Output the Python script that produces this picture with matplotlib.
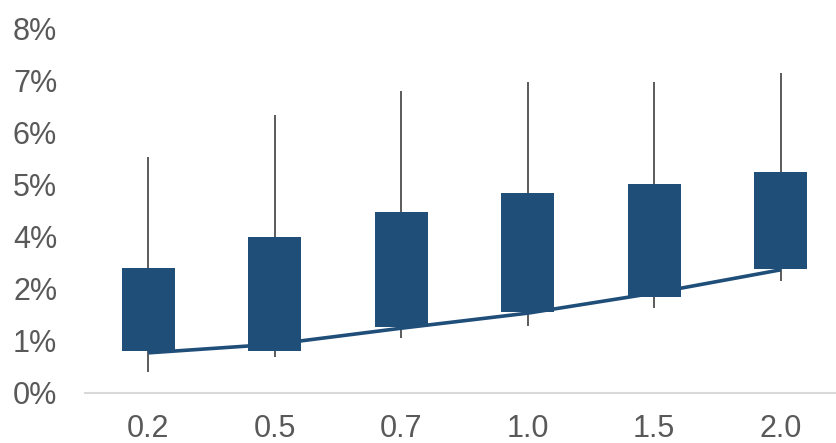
import numpy as np
import matplotlib.pyplot as plt

plt.rcParams['font.family'] = ['Liberation Sans', 'DejaVu Sans']

# Data (y axis units)
categories = ['0.2', '0.5', '0.7', '1.0', '1.5', '2.0']
box_low = [0.92, 0.92, 1.45, 1.78, 2.10, 2.72]
box_high = [2.74, 3.42, 3.97, 4.38, 4.58, 4.84]
whisk_low = [0.46, 0.79, 1.21, 1.47, 1.86, 2.45]
whisk_high = [5.17, 6.09, 6.62, 6.82, 6.82, 7.01]
curve = [0.88, 1.07, 1.42, 1.75, 2.19, 2.70]
ytick_labels = ['0%', '1%', '2%', '4%', '5%', '6%', '7%', '8%']

blue = '#1F4E79'
grey_txt = '#595959'

W, H = 837, 443
fig = plt.figure(figsize=(W / 100, H / 100), dpi=100)
ax = fig.add_axes([85 / W, (H - 393) / H, (844 - 85) / W, 365 / H])

x = np.arange(len(categories))

# whiskers
ax.vlines(x, whisk_low, whisk_high, color='#404040', linewidth=1.2, zorder=1)
# boxes
ax.bar(x, np.array(box_high) - np.array(box_low), bottom=box_low, width=0.42,
       color=blue, zorder=2)
# curve
ax.plot(x, curve, color=blue, linewidth=2.6, zorder=3, solid_capstyle='butt')

ax.set_xlim(-0.5, len(categories) - 0.5)
ax.set_ylim(0, 8)
ax.set_xticks(x)
ax.set_xticklabels(categories)
ax.set_yticks(np.linspace(0, 8, len(ytick_labels)))
ax.set_yticklabels(ytick_labels)

for s in ['top', 'right', 'left']:
    ax.spines[s].set_visible(False)
ax.spines['bottom'].set_color('#D9D9D9')
ax.spines['bottom'].set_linewidth(1.5)

ax.tick_params(axis='both', length=0, labelsize=22, colors=grey_txt)
ax.tick_params(axis='y', pad=20)
ax.tick_params(axis='x', pad=15)

fig.savefig('out.png', dpi=100)
